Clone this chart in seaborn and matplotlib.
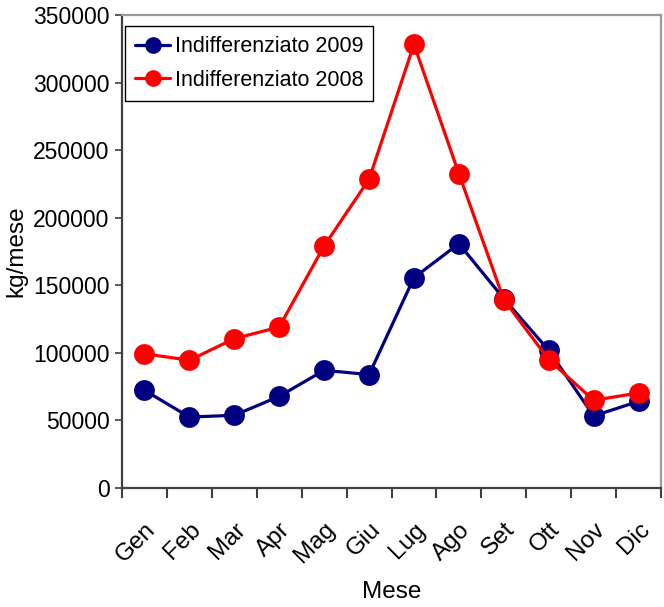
import matplotlib
matplotlib.use("Agg")
import matplotlib.pyplot as plt
import matplotlib.transforms as mtransforms
import seaborn as sns
import pandas as pd

# Monthly undifferentiated waste (kg/month)
mesi = ["Gen", "Feb", "Mar", "Apr", "Mag", "Giu", "Lug", "Ago", "Set", "Ott", "Nov", "Dic"]
indiff_2009 = [72300, 52500, 53800, 67800, 87100, 83900, 155600, 180800, 140100, 101900, 53300, 64100]
indiff_2008 = [99400, 94500, 110500, 119100, 179100, 228400, 328300, 232600, 139400, 95000, 64900, 70300]
y_ticks = [0, 50000, 100000, 150000, 200000, 250000, 300000, 350000]

sns.set_style("white")
plt.rcParams["font.family"] = ["Liberation Sans", "DejaVu Sans"]
plt.rcParams["text.color"] = "black"
plt.rcParams["axes.labelcolor"] = "black"
plt.rcParams["xtick.color"] = "black"
plt.rcParams["ytick.color"] = "black"

df = pd.DataFrame({
    "Mese": mesi * 2,
    "kg/mese": indiff_2009 + indiff_2008,
    "Serie": ["Indifferenziato 2009"] * 12 + ["Indifferenziato 2008"] * 12,
})
df["x"] = list(range(12)) * 2

fig = plt.figure(figsize=(6.64, 6.07), dpi=100)
left, right, bottom, top = 122 / 664, 661 / 664, 1 - 488 / 607, 1 - 15 / 607
ax = fig.add_axes([left, bottom, right - left, top - bottom])

palette = {"Indifferenziato 2009": "#000080", "Indifferenziato 2008": "#FF0000"}
sns.lineplot(data=df, x="x", y="kg/mese", hue="Serie", palette=palette,
             marker="o", markersize=15, markeredgewidth=0, linewidth=2.3,
             ax=ax, legend=True)

ax.set_xlim(-0.5, 11.5)
ax.set_ylim(0, 350000)
ax.set_yticks(y_ticks)
ax.set_yticklabels([str(v) for v in y_ticks], fontsize=16.5)

# Ticks at category boundaries, labels at category centres
ax.set_xticks([i - 0.5 for i in range(13)])
ax.set_xticklabels([])
ax.set_xticks(range(12), minor=True)
ax.set_xticklabels(mesi, minor=True, rotation=45, ha="right", rotation_mode="anchor",
                   fontsize=17.5)
shift = mtransforms.ScaledTranslation(-6 / 100, 0, fig.dpi_scale_trans)
for lbl in ax.get_xticklabels(minor=True):
    lbl.set_transform(lbl.get_transform() + shift)
ax.tick_params(axis="x", which="major", direction="out", length=7, width=1.5,
               color="#404040", bottom=True)
ax.tick_params(axis="x", which="minor", length=0, pad=22)
ax.tick_params(axis="y", direction="out", length=5, width=1.2, color="#404040",
               left=True, pad=4)

for side in ["left", "bottom"]:
    ax.spines[side].set_color("#404040")
    ax.spines[side].set_linewidth(1.6)
for side in ["top", "right"]:
    ax.spines[side].set_color("#9a9a9a")
    ax.spines[side].set_linewidth(1.6)

ax.set_xlabel("Mese", fontsize=17.5)
ax.xaxis.set_label_coords(0.5, -0.197)
ax.set_ylabel("kg/mese", fontsize=17.5)
ax.yaxis.set_label_coords(-0.175, 0.50)

leg = ax.legend(loc="upper left", bbox_to_anchor=(0.006, 0.976), fontsize=15.5,
                frameon=True, fancybox=False, framealpha=1, edgecolor="black",
                borderpad=0.45, handlelength=1.65, handletextpad=0.2,
                labelspacing=0.6, borderaxespad=0, markerscale=0.8)
leg.get_frame().set_linewidth(1.0)

fig.savefig("out.png", dpi=100)
